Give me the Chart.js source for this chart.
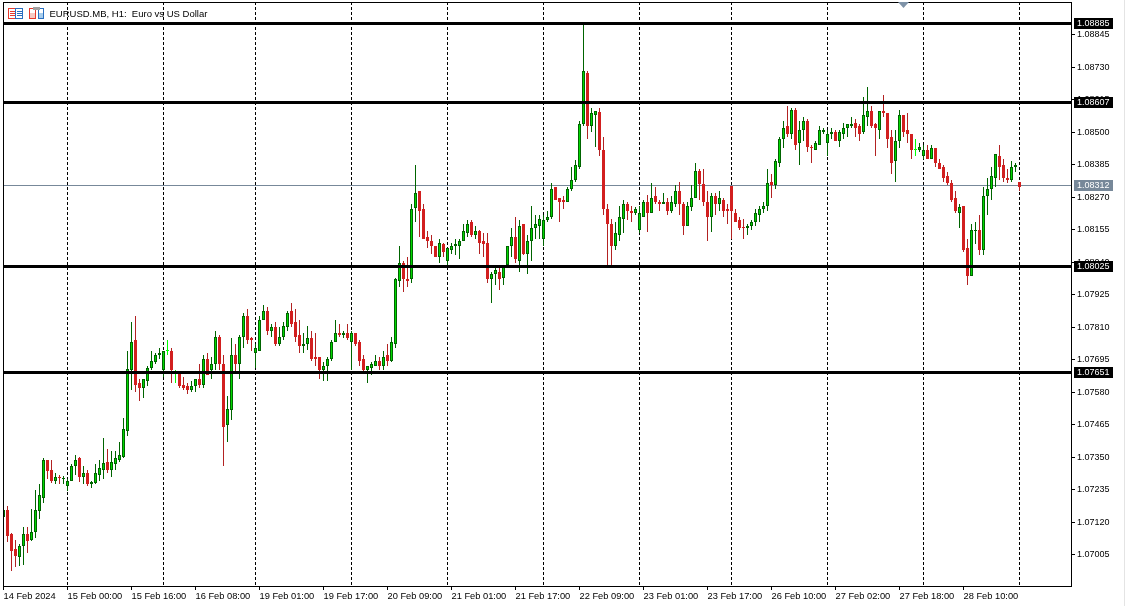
<!DOCTYPE html>
<html>
<head>
<meta charset="utf-8">
<title>EURUSD.MB, H1</title>
<script src="https://cdn.jsdelivr.net/npm/chart.js@4/dist/chart.umd.min.js"></script>
<style>
  html, body { margin: 0; padding: 0; background: #fff; }
  canvas { display: block; }
</style>
</head>
<body>
<canvas id="chart" width="1125" height="606"></canvas>
<script>
// H1 candles, one entry per hour from 14 Feb 2024 08:00
const opens = [
  1.07137,1.07161,1.07076,1.07023,1.06995,1.07034,1.07079,1.07057,1.07084,1.07158,
  1.07204,1.07341,1.07306,1.07265,1.07281,1.07272,1.07247,1.07265,1.07320,1.07345,
  1.07281,1.07295,1.07253,1.07258,1.07288,1.07306,1.07331,1.07306,1.07327,1.07341,
  1.07350,1.07444,1.07660,1.07763,1.07611,1.07593,1.07621,1.07667,1.07685,1.07713,
  1.07657,1.07725,1.07727,1.07652,1.07646,1.07604,1.07600,1.07589,1.07600,1.07628,
  1.07607,1.07699,1.07657,1.07678,1.07774,1.07681,1.07462,1.07518,1.07710,1.07678,
  1.07777,1.07851,1.07770,1.07717,1.07725,1.07834,1.07869,1.07798,1.07812,1.07749,
  1.07774,1.07812,1.07869,1.07830,1.07784,1.07742,1.07752,1.07770,1.07703,1.07703,
  1.07660,1.07671,1.07696,1.07756,1.07791,1.07784,1.07791,1.07756,1.07788,1.07756,
  1.07696,1.07657,1.07664,1.07674,1.07692,1.07671,1.07710,1.07692,1.07752,1.07972,
  1.08039,1.07982,1.07979,1.08231,1.08291,1.08227,1.08131,1.08117,1.08096,1.08060,
  1.08103,1.08043,1.08085,1.08096,1.08096,1.08117,1.08145,1.08181,1.08138,1.08149,
  1.08114,1.08107,1.07982,1.07997,1.08007,1.07986,1.08029,1.08099,1.08131,1.08046,
  1.08174,1.08071,1.08114,1.08160,1.08167,1.08124,1.08188,1.08199,1.08305,1.08266,
  1.08262,1.08252,1.08298,1.08330,1.08379,1.08528,1.08712,1.08524,1.08563,1.08571,
  1.08439,1.08227,1.08177,1.08099,1.08138,1.08195,1.08245,1.08223,1.08216,1.08153,
  1.08199,1.08255,1.08216,1.08273,1.08255,1.08248,1.08255,1.08223,1.08248,1.08294,
  1.08248,1.08170,1.08234,1.08266,1.08362,1.08316,1.08255,1.08202,1.08273,1.08245,
  1.08262,1.08230,1.08310,1.08216,1.08188,1.08163,1.08160,1.08167,1.08181,1.08206,
  1.08227,1.08238,1.08323,1.08315,1.08393,1.08475,1.08521,1.08493,1.08581,1.08461,
  1.08507,1.08542,1.08450,1.08439,1.08457,1.08503,1.08461,1.08493,1.08503,1.08471,
  1.08496,1.08514,1.08524,1.08535,1.08521,1.08500,1.08556,1.08574,1.08528,1.08510,
  1.08574,1.08567,1.08482,1.08397,1.08468,1.08560,1.08507,1.08493,1.08438,1.08439,
  1.08418,1.08439,1.08407,1.08446,1.08393,1.08376,1.08344,1.08319,1.08266,1.08216,
  1.08238,1.08089,1.07993,1.08149,1.08156,1.08085,1.08273,1.08298,1.08337,1.08418,
  1.08383,1.08340,1.08333,1.08376,1.08326
];
const highs = [
  1.07165,1.07175,1.07082,1.07058,1.07043,1.07104,1.07104,1.07167,1.07232,1.07253,
  1.07345,1.07341,1.07338,1.07294,1.07288,1.07284,1.07273,1.07325,1.07356,1.07352,
  1.07317,1.07306,1.07267,1.07324,1.07338,1.07416,1.07377,1.07370,1.07370,1.07402,
  1.07487,1.07727,1.07830,1.07848,1.07628,1.07628,1.07674,1.07724,1.07717,1.07738,
  1.07727,1.07766,1.07738,1.07660,1.07650,1.07632,1.07611,1.07618,1.07628,1.07678,
  1.07713,1.07717,1.07706,1.07798,1.07781,1.07713,1.07568,1.07770,1.07752,1.07781,
  1.07859,1.07876,1.07774,1.07752,1.07851,1.07890,1.07880,1.07820,1.07830,1.07812,
  1.07827,1.07866,1.07894,1.07873,1.07834,1.07788,1.07816,1.07795,1.07788,1.07706,
  1.07685,1.07706,1.07763,1.07834,1.07820,1.07798,1.07823,1.07795,1.07791,1.07766,
  1.07713,1.07671,1.07685,1.07710,1.07703,1.07727,1.07749,1.07777,1.07986,1.08096,
  1.08043,1.08057,1.08248,1.08386,1.08294,1.08248,1.08149,1.08138,1.08096,1.08124,
  1.08107,1.08089,1.08110,1.08121,1.08121,1.08174,1.08188,1.08188,1.08167,1.08153,
  1.08142,1.08145,1.08004,1.08032,1.08023,1.08032,1.08099,1.08160,1.08199,1.08188,
  1.08174,1.08135,1.08241,1.08209,1.08206,1.08206,1.08223,1.08319,1.08305,1.08269,
  1.08273,1.08308,1.08379,1.08401,1.08539,1.08880,1.08716,1.08588,1.08574,1.08585,
  1.08482,1.08245,1.08195,1.08184,1.08241,1.08262,1.08252,1.08238,1.08234,1.08238,
  1.08259,1.08280,1.08319,1.08305,1.08262,1.08284,1.08269,1.08273,1.08315,1.08323,
  1.08252,1.08252,1.08312,1.08393,1.08369,1.08369,1.08294,1.08287,1.08287,1.08294,
  1.08266,1.08245,1.08310,1.08227,1.08202,1.08195,1.08177,1.08191,1.08227,1.08241,
  1.08255,1.08369,1.08354,1.08404,1.08485,1.08539,1.08595,1.08588,1.08585,1.08542,
  1.08553,1.08549,1.08457,1.08471,1.08524,1.08514,1.08507,1.08514,1.08507,1.08507,
  1.08535,1.08528,1.08553,1.08546,1.08531,1.08627,1.08659,1.08595,1.08535,1.08574,
  1.08631,1.08567,1.08507,1.08510,1.08578,1.08563,1.08567,1.08496,1.08475,1.08461,
  1.08454,1.08454,1.08454,1.08446,1.08404,1.08383,1.08358,1.08330,1.08294,1.08248,
  1.08241,1.08124,1.08177,1.08181,1.08209,1.08305,1.08337,1.08379,1.08422,1.08457,
  1.08404,1.08372,1.08397,1.08393,1.08326
];
const lows = [
  1.07135,1.07049,1.06948,1.06960,1.06964,1.06969,1.07010,1.07054,1.07062,1.07129,
  1.07189,1.07274,1.07258,1.07253,1.07256,1.07253,1.07229,1.07264,1.07288,1.07260,
  1.07256,1.07249,1.07242,1.07256,1.07267,1.07274,1.07295,1.07278,1.07306,1.07334,
  1.07348,1.07423,1.07589,1.07582,1.07547,1.07561,1.07600,1.07660,1.07678,1.07699,
  1.07632,1.07713,1.07611,1.07611,1.07596,1.07589,1.07572,1.07582,1.07582,1.07596,
  1.07596,1.07639,1.07625,1.07657,1.07657,1.07317,1.07405,1.07480,1.07653,1.07625,
  1.07735,1.07749,1.07724,1.07667,1.07724,1.07834,1.07781,1.07777,1.07745,1.07745,
  1.07766,1.07795,1.07809,1.07759,1.07720,1.07717,1.07731,1.07692,1.07671,1.07628,
  1.07618,1.07621,1.07692,1.07756,1.07777,1.07770,1.07766,1.07657,1.07745,1.07674,
  1.07653,1.07614,1.07642,1.07671,1.07657,1.07657,1.07671,1.07685,1.07735,1.07954,
  1.07933,1.07951,1.07965,1.08181,1.08128,1.08121,1.08089,1.08068,1.08060,1.08039,
  1.08060,1.08032,1.08068,1.08064,1.08050,1.08117,1.08131,1.08131,1.08121,1.08071,
  1.08060,1.07968,1.07894,1.07958,1.07940,1.07961,1.08021,1.08057,1.08039,1.08004,
  1.08064,1.07997,1.08046,1.08121,1.08121,1.08096,1.08184,1.08195,1.08262,1.08184,
  1.08227,1.08252,1.08294,1.08326,1.08372,1.08521,1.08475,1.08500,1.08447,1.08418,
  1.08206,1.08029,1.08032,1.08085,1.08114,1.08142,1.08188,1.08181,1.08206,1.08142,
  1.08199,1.08146,1.08213,1.08245,1.08223,1.08245,1.08209,1.08213,1.08234,1.08206,
  1.08135,1.08167,1.08220,1.08266,1.08262,1.08238,1.08114,1.08146,1.08206,1.08223,
  1.08199,1.08174,1.08124,1.08181,1.08156,1.08121,1.08138,1.08156,1.08170,1.08184,
  1.08216,1.08223,1.08266,1.08301,1.08379,1.08446,1.08485,1.08478,1.08436,1.08383,
  1.08468,1.08432,1.08393,1.08436,1.08457,1.08493,1.08418,1.08478,1.08468,1.08450,
  1.08478,1.08482,1.08514,1.08482,1.08468,1.08496,1.08524,1.08514,1.08415,1.08475,
  1.08553,1.08443,1.08354,1.08326,1.08443,1.08485,1.08461,1.08404,1.08415,1.08432,
  1.08404,1.08407,1.08404,1.08376,1.08369,1.08326,1.08315,1.08252,1.08216,1.08160,
  1.08078,1.07961,1.07990,1.08106,1.08067,1.08064,1.08209,1.08259,1.08308,1.08333,
  1.08326,1.08319,1.08326,1.08358,1.08294
];
const closes = [
  1.07163,1.07072,1.07019,1.06998,1.07036,1.07078,1.07054,1.07085,1.07161,1.07214,
  1.07338,1.07302,1.07267,1.07280,1.07275,1.07274,1.07266,1.07320,1.07341,1.07281,
  1.07292,1.07253,1.07260,1.07292,1.07310,1.07330,1.07306,1.07334,1.07348,1.07356,
  1.07448,1.07663,1.07759,1.07607,1.07593,1.07625,1.07667,1.07689,1.07713,1.07720,
  1.07725,1.07725,1.07657,1.07652,1.07600,1.07596,1.07589,1.07600,1.07625,1.07604,
  1.07699,1.07642,1.07681,1.07777,1.07678,1.07458,1.07522,1.07710,1.07681,1.07777,
  1.07851,1.07766,1.07763,1.07735,1.07837,1.07869,1.07798,1.07812,1.07752,1.07777,
  1.07816,1.07862,1.07823,1.07777,1.07745,1.07752,1.07770,1.07696,1.07699,1.07660,
  1.07674,1.07696,1.07759,1.07791,1.07781,1.07791,1.07770,1.07788,1.07749,1.07692,
  1.07657,1.07671,1.07678,1.07689,1.07671,1.07706,1.07692,1.07759,1.07979,1.08039,
  1.07979,1.07975,1.08227,1.08287,1.08223,1.08124,1.08114,1.08096,1.08060,1.08107,
  1.08075,1.08089,1.08099,1.08103,1.08117,1.08149,1.08177,1.08138,1.08149,1.08110,
  1.08103,1.07982,1.07997,1.08011,1.07979,1.08029,1.08099,1.08131,1.08050,1.08170,
  1.08071,1.08117,1.08163,1.08174,1.08195,1.08188,1.08202,1.08301,1.08262,1.08255,
  1.08255,1.08301,1.08333,1.08383,1.08528,1.08716,1.08524,1.08567,1.08574,1.08439,
  1.08227,1.08177,1.08096,1.08142,1.08202,1.08248,1.08220,1.08213,1.08227,1.08216,
  1.08252,1.08213,1.08269,1.08252,1.08248,1.08255,1.08223,1.08255,1.08294,1.08248,
  1.08170,1.08238,1.08269,1.08362,1.08316,1.08252,1.08202,1.08273,1.08245,1.08266,
  1.08223,1.08220,1.08220,1.08184,1.08163,1.08161,1.08170,1.08184,1.08213,1.08230,
  1.08238,1.08319,1.08315,1.08400,1.08478,1.08517,1.08493,1.08578,1.08457,1.08507,
  1.08542,1.08450,1.08443,1.08464,1.08507,1.08510,1.08496,1.08503,1.08471,1.08500,
  1.08514,1.08528,1.08531,1.08517,1.08496,1.08560,1.08574,1.08524,1.08514,1.08574,
  1.08567,1.08475,1.08393,1.08468,1.08560,1.08503,1.08493,1.08439,1.08438,1.08450,
  1.08436,1.08407,1.08446,1.08390,1.08372,1.08340,1.08319,1.08262,1.08220,1.08234,
  1.08085,1.07993,1.08156,1.08156,1.08082,1.08276,1.08298,1.08344,1.08422,1.08379,
  1.08340,1.08333,1.08379,1.08383,1.08308
];

// axis labels: candle index of every time label, and the day separators
const timeTickBars = [0,16,32,48,64,80,96,112,128,144,160,176,192,208,224,240];
const timeTickLabels = [
  "14 Feb 2024","15 Feb 00:00","15 Feb 16:00","16 Feb 08:00","19 Feb 01:00","19 Feb 17:00",
  "20 Feb 09:00","21 Feb 01:00","21 Feb 17:00","22 Feb 09:00","23 Feb 01:00","23 Feb 17:00",
  "26 Feb 10:00","27 Feb 02:00","27 Feb 18:00","28 Feb 10:00"
];
const daySeparatorBars = [16,40,63,87,111,135,159,182,206,230,254];
const priceTicks = [
  1.07005,1.07120,1.07235,1.07350,1.07465,1.07580,1.07695,1.07810,1.07925,
  1.08040,1.08155,1.08270,1.08385,1.08500,1.08615,1.08730,1.08845
];
const levels = [1.08885, 1.08607, 1.08025, 1.07651];
const lastPrice = 1.08312;
const chartTitle = "EURUSD.MB, H1:  Euro vs US Dollar";

const FONT = '"Liberation Sans", Arial, sans-serif';
const UP_FILL = "#00d800";
const UP_EDGE = "#006400";
const DOWN_FILL = "#d21f1f";
const DOWN_WICK = "#b22222";
const DOJI = "#00ff00";
const LAST_COLOR = "#778899";

const isDoji = i => opens[i] === closes[i];
const isUp = i => closes[i] >= opens[i];
const wickColor = opens.map((_, i) => (isDoji(i) ? DOJI : isUp(i) ? UP_EDGE : DOWN_WICK));
const bodyFill = opens.map((_, i) => (isDoji(i) ? DOJI : isUp(i) ? UP_FILL : DOWN_FILL));
const bodyEdge = opens.map((_, i) => (isDoji(i) ? DOJI : isUp(i) ? UP_EDGE : DOWN_FILL));

// one candle is 4px wide, this puts candle 0 half a pixel right of the plot edge
const X_MIN = -0.125;
const X_MAX = 266.875;

const hLine = (price, color, width, order) => ({
  type: "line",
  data: [{ x: X_MIN, y: price }, { x: X_MAX, y: price }],
  borderColor: color,
  borderWidth: width,
  pointRadius: 0,
  order
});

// snap marks to whole pixels, the platform draws without antialiasing
const snapPlugin = {
  id: "snap",
  afterDatasetsUpdate(chart) {
    chart.getSortedVisibleDatasetMetas().forEach(meta => {
      if (meta.type === "bar") {
        meta.data.forEach(el => {
          el.y = Math.round(el.y);
          el.base = Math.round(el.base);
          if (el.base === el.y) el.base = el.y + 1;
          el.height = el.base - el.y;
        });
      } else {
        meta.data.forEach(el => { el.y = Math.floor(el.y) + 0.5; });
      }
    });
  }
};

// no extra room around the plot for the outer tick labels
const noPadding = s => {
  s.paddingTop = 0;
  s.paddingBottom = 0;
  s.paddingLeft = 0;
  s.paddingRight = 0;
};

function priceBox(ctx, y, text, color) {
  ctx.fillStyle = color;
  ctx.fillRect(1074, Math.floor(y) - 5, 39, 11);
  ctx.fillStyle = "#fff";
  ctx.fillText(text, 1077, Math.floor(y) + 1);
}

function drawIcons(ctx) {
  // chart window icons next to the title
  ctx.lineWidth = 1;
  ctx.strokeStyle = "#e8392c";
  ctx.strokeRect(8.5, 8.5, 7, 10);
  ctx.beginPath();
  [11.5, 13.5, 15.5].forEach(y => { ctx.moveTo(10, y); ctx.lineTo(15, y); });
  ctx.stroke();
  ctx.strokeStyle = "#2a6fc0";
  ctx.strokeRect(15.5, 8.5, 7, 10);
  ctx.beginPath();
  [11.5, 13.5, 15.5].forEach(y => { ctx.moveTo(17, y); ctx.lineTo(22, y); });
  ctx.stroke();

  ctx.fillStyle = "#f6c9c4";
  ctx.fillRect(30, 13, 5, 5);
  ctx.strokeStyle = "#e8392c";
  ctx.strokeRect(29.5, 8.5, 6, 10);
  ctx.fillStyle = "#a8cdec";
  ctx.fillRect(39, 13, 4, 5);
  ctx.strokeStyle = "#2a6fc0";
  ctx.strokeRect(38.5, 8.5, 5, 10);
  ctx.fillStyle = "#a0a0a0";
  ctx.fillRect(33, 7, 7, 3);
}

const overlayPlugin = {
  id: "overlay",
  afterDraw(chart) {
    const { ctx, chartArea, scales } = chart;
    ctx.save();

    // frame around the plot
    ctx.strokeStyle = "#000";
    ctx.lineWidth = 1;
    ctx.strokeRect(chartArea.left + 0.5, chartArea.top + 0.5,
      chartArea.right - chartArea.left, chartArea.bottom - chartArea.top);

    // window edge on the far right
    ctx.fillStyle = "#e4e4e4";
    ctx.fillRect(1124, 0, 1, 606);

    drawIcons(ctx);

    ctx.font = "9.5px " + FONT;
    ctx.fillStyle = "#000";
    ctx.textBaseline = "alphabetic";
    ctx.textAlign = "left";
    ctx.fillText(chartTitle, 49.5, 17);

    // marker on the top edge
    ctx.fillStyle = "#7f93a8";
    ctx.beginPath();
    ctx.moveTo(898, 2);
    ctx.lineTo(909, 2);
    ctx.lineTo(903.5, 8);
    ctx.closePath();
    ctx.fill();

    // price labels on the axis
    ctx.font = "9px " + FONT;
    ctx.textBaseline = "middle";
    levels.forEach(p => priceBox(ctx, scales.y.getPixelForValue(p), p.toFixed(5), "#000"));
    priceBox(ctx, scales.y.getPixelForValue(lastPrice), lastPrice.toFixed(5), LAST_COLOR);
    ctx.restore();
  }
};

new Chart(document.getElementById("chart"), {
  type: "bar",
  data: {
    datasets: [
      hLine(lastPrice, LAST_COLOR, 1, 10),
      {
        label: "wick",
        data: opens.map((_, i) => ({ x: i, y: [lows[i], highs[i]] })),
        backgroundColor: wickColor,
        borderWidth: 0,
        inflateAmount: 0,
        grouped: false,
        barPercentage: 1,
        categoryPercentage: 1,
        maxBarThickness: 1,
        order: 6
      },
      {
        label: "body",
        data: opens.map((o, i) => ({ x: i, y: [Math.min(o, closes[i]), Math.max(o, closes[i])] })),
        backgroundColor: bodyFill,
        borderColor: bodyEdge,
        borderWidth: 1,
        borderSkipped: false,
        inflateAmount: 0,
        minBarLength: 1,
        grouped: false,
        barPercentage: 1,
        categoryPercentage: 1,
        maxBarThickness: 3,
        order: 5
      },
      ...levels.map(p => hLine(p, "#000", 3, 1))
    ]
  },
  options: {
    responsive: false,
    animation: false,
    events: [],
    layout: { padding: { left: 3, top: 2, right: 0, bottom: 0 } },
    plugins: { legend: { display: false }, tooltip: { enabled: false }, title: { display: false } },
    scales: {
      x: {
        type: "linear",
        position: "bottom",
        offset: false,
        min: X_MIN,
        max: X_MAX,
        afterBuildTicks: s => { s.ticks = timeTickBars.map(v => ({ value: v })); },
        afterFit: s => { s.height = 20; noPadding(s); },
        border: { display: false },
        grid: { offset: false, drawOnChartArea: false, drawTicks: true, tickLength: 4, color: "#000" },
        ticks: {
          autoSkip: false,
          maxRotation: 0,
          minRotation: 0,
          align: "start",
          padding: 1,
          color: "#000",
          font: { family: FONT, size: 9.3 },
          callback: (v, i) => timeTickLabels[i]
        }
      },
      days: {
        type: "linear",
        axis: "x",
        position: "bottom",
        offset: false,
        min: X_MIN,
        max: X_MAX,
        afterBuildTicks: s => { s.ticks = daySeparatorBars.map(v => ({ value: v })); },
        afterFit: s => { s.height = 0; noPadding(s); },
        border: { display: false, dash: [3, 2] },
        grid: { offset: false, color: "#000", lineWidth: 1, drawTicks: false },
        ticks: { display: false, autoSkip: false }
      },
      y: {
        type: "linear",
        position: "right",
        min: 1.068934,
        max: 1.089618,
        afterBuildTicks: s => { s.ticks = priceTicks.map(v => ({ value: v })); },
        afterFit: s => { s.width = 54; noPadding(s); },
        border: { display: false },
        grid: { drawOnChartArea: false, drawTicks: true, tickLength: 4, color: "#000" },
        ticks: {
          autoSkip: false,
          padding: 2,
          color: "#000",
          font: { family: FONT, size: 9 },
          callback: v => v.toFixed(5)
        }
      }
    }
  },
  plugins: [snapPlugin, overlayPlugin]
});
</script>
</body>
</html>
